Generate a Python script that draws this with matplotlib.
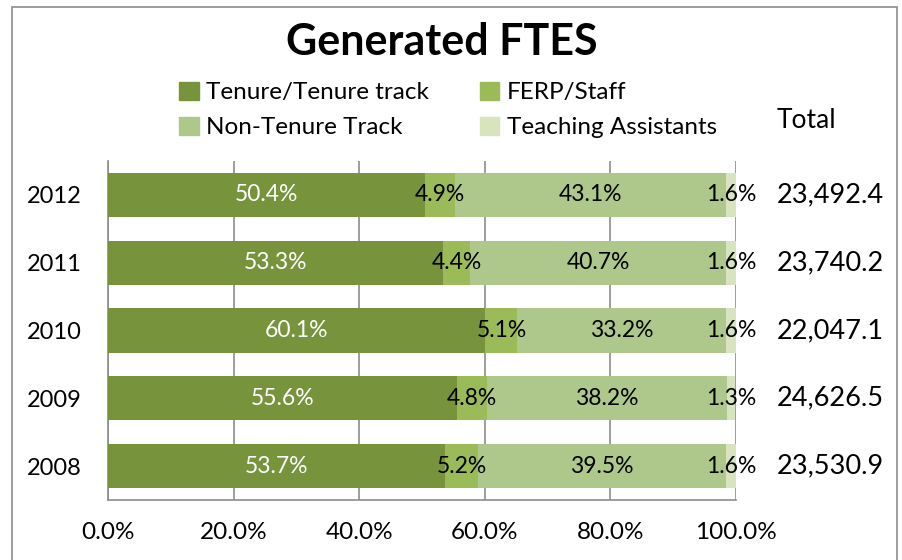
import matplotlib
matplotlib.use("Agg")
import matplotlib.pyplot as plt
from matplotlib.patches import Rectangle, Patch
from matplotlib.ticker import FuncFormatter

plt.rcParams['font.family'] = ['Lato', 'DejaVu Sans']

# data (share of FTES, %)
years = ['2008', '2009', '2010', '2011', '2012']
tenure = [53.7, 55.6, 60.1, 53.3, 50.4]
ferp = [5.2, 4.8, 5.1, 4.4, 4.9]
non_tenure = [39.5, 38.2, 33.2, 40.7, 43.1]
ta = [1.6, 1.3, 1.6, 1.6, 1.6]
totals = ['23,530.9', '24,626.5', '22,047.1', '23,740.2', '23,492.4']

series = [
    ('Tenure/Tenure track', tenure, '#77933c', 'white'),
    ('FERP/Staff', ferp, '#9bbb59', 'black'),
    ('Non-Tenure Track', non_tenure, '#aec78a', 'black'),
    ('Teaching Assistants', ta, '#d7e4bd', 'black'),
]

fig = plt.figure(figsize=(9.03, 5.6), dpi=100)
ax = fig.add_axes([108 / 903, 1 - 500 / 560, 628 / 903, 339 / 560])

# outer chart border
fig.patches.append(Rectangle((12 / 903, -0.1), 885 / 903, 1.1 - 7 / 560,
                             transform=fig.transFigure, fill=False,
                             edgecolor='#8c8c8c', linewidth=1.2))

ypos = list(range(len(years)))
left = [0.0] * len(years)
for name, vals, col, tcol in series:
    bars = ax.barh(ypos, vals, left=left, height=0.65, color=col, zorder=3)
    for i, b in enumerate(bars):
        cx = b.get_x() + b.get_width() / 2
        ax.text(cx, b.get_y() + b.get_height() / 2, f'{vals[i]:.1f}%',
                ha='center', va='center', color=tcol, fontsize=16.5, zorder=4)
    left = [l + v for l, v in zip(left, vals)]

for i, t in enumerate(totals):
    ax.text(1.065, i, t, transform=ax.get_yaxis_transform(),
            ha='left', va='center', fontsize=19.5)
ax.text(1.065, 1.12, 'Total', transform=ax.transAxes,
        ha='left', va='center', fontsize=19)

ax.set_xlim(0, 100)
ax.set_ylim(-0.5, 4.5)
ax.set_xticks([0, 20, 40, 60, 80, 100])
ax.xaxis.set_major_formatter(FuncFormatter(lambda v, p: f'{v:.1f}%'))
ax.set_yticks(ypos)
ax.set_yticklabels(years)
ax.tick_params(axis='x', length=0, labelsize=17.5, pad=16)
ax.tick_params(axis='y', length=0, labelsize=17, pad=19)
ax.grid(axis='x', color='#8c8c8c', linewidth=1.2, zorder=0)
for s in ['top', 'right']:
    ax.spines[s].set_visible(False)
for s in ['left', 'bottom']:
    ax.spines[s].set_color('#8c8c8c')
    ax.spines[s].set_linewidth(1.2)

fig.text(0.489, 1 - 42 / 560, 'Generated FTES', ha='center', va='center',
         fontsize=31, fontweight='bold')

handles = [Patch(color=c) for _, _, c, _ in series]
labels = [n for n, _, _, _ in series]
order = [0, 2, 1, 3]
fig.legend([handles[k] for k in order], [labels[k] for k in order],
           loc='center', bbox_to_anchor=(0.496, 1 - 110 / 560), ncol=2,
           frameon=False, fontsize=17.5, handlelength=0.8, handleheight=0.8,
           handletextpad=0.3, columnspacing=2.1, labelspacing=0.55)

fig.savefig('out.png', dpi=100)
